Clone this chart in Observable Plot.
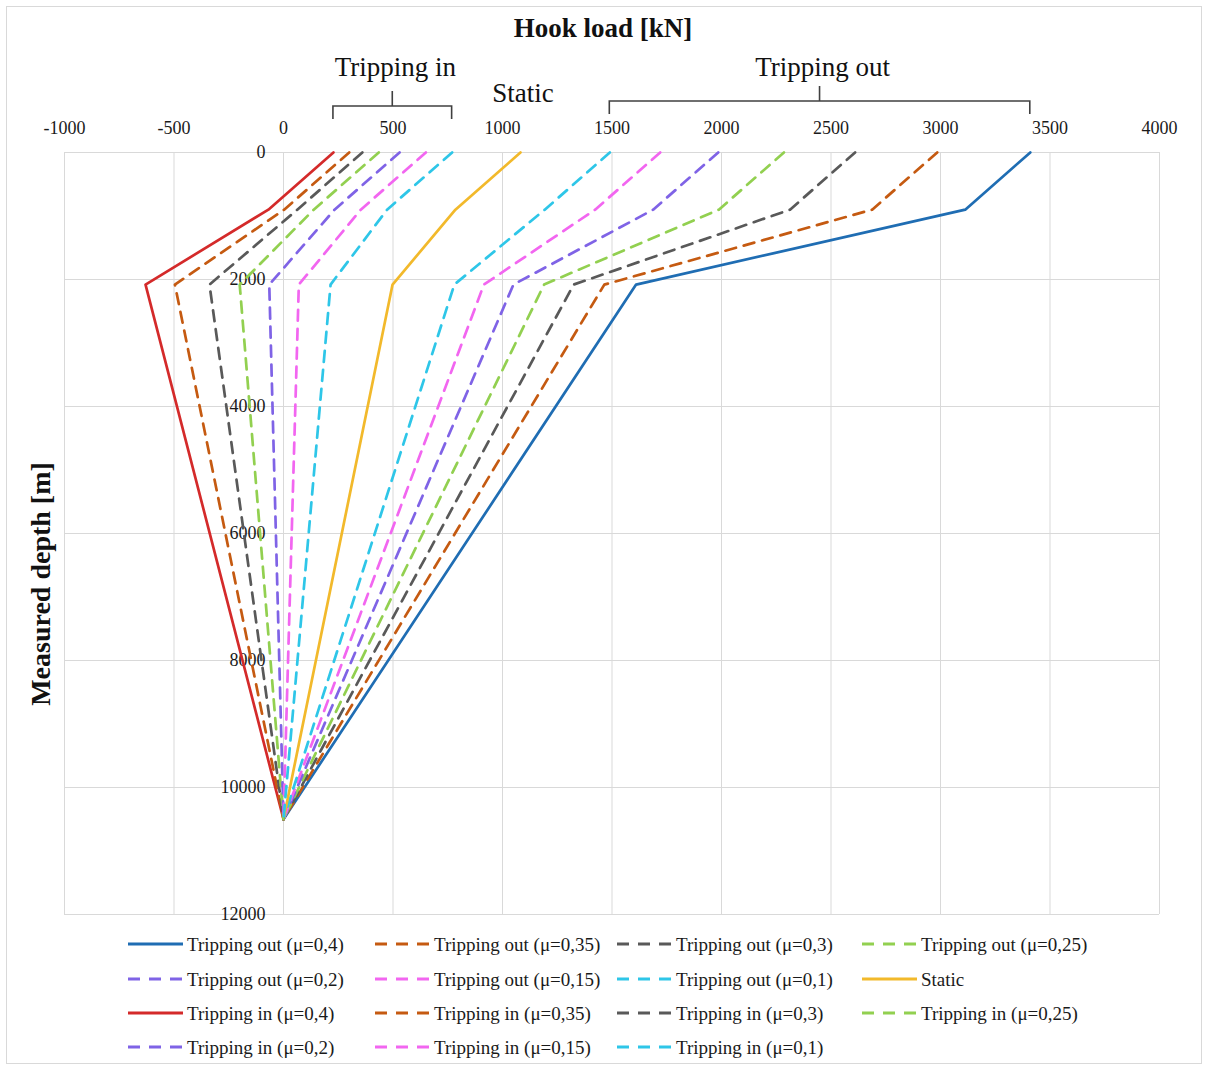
<!DOCTYPE html>
<html><head><meta charset="utf-8">
<script src="https://cdn.jsdelivr.net/npm/d3@7"></script>
<script src="https://cdn.jsdelivr.net/npm/@observablehq/plot@0.6"></script>
<style>body{margin:0;background:#fff}</style>
</head><body><div id="chart"></div>
<script>
// ---- data ----
const depths = [0, 900, 2080, 10500];            // measured depth [m] of each point
const muLabels = ["0,4", "0,35", "0,3", "0,25", "0,2", "0,15", "0,1"];
const trippingOut = [
  [3410, 3113, 1610, 0],
  [2985, 2688, 1465, 0],
  [2610, 2313, 1325, 0],
  [2285, 1988, 1190, 0],
  [1985, 1688, 1050, 0],
  [1720, 1423, 915, 0],
  [1490, 1193, 780, 0]
];
const staticLoad = [1082, 785, 498, 0];
const trippingIn = [
  [228, -69, -630, 0],
  [300, 3, -496, 0],
  [360, 63, -338, 0],
  [435, 138, -200, 0],
  [530, 233, -65, 0],
  [650, 353, 70, 0],
  [770, 473, 215, 0]
];
const xTicks = [-1000, -500, 0, 500, 1000, 1500, 2000, 2500, 3000, 3500, 4000];
const yTicks = [0, 2000, 4000, 6000, 8000, 10000, 12000];

// ---- styles ----
const outColors = ["#1f6db3", "#c55a11", "#595959", "#92d050", "#7f63e6", "#f266f0", "#2ec6e8"];
const inColors  = ["#d42a2a", "#c55a11", "#595959", "#92d050", "#7f63e6", "#f266f0", "#2ec6e8"];
const staticColor = "#f2b92b";
const DASH = "11,8";

const series = [];
trippingOut.forEach((v, i) => series.push({name: `Tripping out (μ=${muLabels[i]})`, values: v, color: outColors[i], dash: i === 0 ? null : DASH}));
series.push({name: "Static", values: staticLoad, color: staticColor, dash: null});
trippingIn.forEach((v, i) => series.push({name: `Tripping in (μ=${muLabels[i]})`, values: v, color: inColors[i], dash: i === 0 ? null : DASH}));

const lineMarks = series.map(s => Plot.line(
  s.values.map((load, j) => ({load, depth: depths[j]})),
  {x: "load", y: "depth", stroke: s.color, strokeWidth: 2.7, strokeDasharray: s.dash || undefined, strokeLinejoin: "round"}
));

const W = 1208, H = 1070;
const plot = Plot.plot({
  width: W, height: H,
  marginTop: 152, marginBottom: 156, marginLeft: 64, marginRight: 49,
  style: {fontFamily: "'Liberation Serif', 'Times New Roman', serif", fontSize: "18px", color: "#1a1a1a", background: "#fff"},
  x: {domain: [-1000, 4000], axis: null, label: null},
  y: {domain: [0, 12000], reverse: true, axis: null, label: null},
  marks: [
    Plot.gridX(xTicks, {stroke: "#d9d9d9", strokeOpacity: 1, strokeWidth: 1}),
    Plot.gridY(yTicks, {stroke: "#d9d9d9", strokeOpacity: 1, strokeWidth: 1}),
    Plot.axisX(xTicks, {anchor: "top", tickSize: 0, tickPadding: 19, fontSize: 18, label: null, tickFormat: d => String(d)}),
    Plot.text(yTicks, {x: 0, y: d => d, text: d => String(d), textAnchor: "end", dx: -18, fontSize: 18, fill: "#1a1a1a"}),
    ...lineMarks
  ]
});
document.getElementById("chart").appendChild(plot);

// ---- annotations, titles, legend ----
const svg = d3.select(plot);
const xs = plot.scale("x");
const X = v => xs.apply(v);
const serif = "'Liberation Serif', 'Times New Roman', serif";

svg.insert("rect", ":first-child").attr("x", 6.5).attr("y", 6.5).attr("width", W - 13).attr("height", H - 13)
  .attr("fill", "#fff").attr("stroke", "#d9d9d9");

svg.append("text").attr("x", 603).attr("y", 28).attr("dy", "0.35em").attr("text-anchor", "middle")
  .attr("font-family", serif).attr("font-size", 27).attr("font-weight", "bold").attr("fill", "#111").text("Hook load [kN]");

svg.append("text").attr("transform", "translate(40,584) rotate(-90)").attr("dy", "0.35em").attr("text-anchor", "middle")
  .attr("font-family", serif).attr("font-size", 28).attr("font-weight", "bold").attr("fill", "#111").text("Measured depth [m]");

function bracket(vals, yh, label) {
  const x1 = X(d3.min(vals)), x2 = X(d3.max(vals)), xc = (x1 + x2) / 2;
  svg.append("path").attr("d", `M${x1},${yh + 13}L${x1},${yh}L${x2},${yh}L${x2},${yh + 13}M${xc},${yh}L${xc},${yh - 15}`)
    .attr("fill", "none").attr("stroke", "#404040").attr("stroke-width", 1.6);
  svg.append("text").attr("x", xc + 3).attr("y", 67).attr("dy", "0.35em").attr("text-anchor", "middle")
    .attr("font-family", serif).attr("font-size", 27).attr("fill", "#111").text(label);
}
bracket(trippingIn.map(v => v[0]), 106, "Tripping in");
bracket(trippingOut.map(v => v[0]), 101, "Tripping out");
svg.append("text").attr("x", X(staticLoad[0]) + 3).attr("y", 93).attr("dy", "0.35em").attr("text-anchor", "middle")
  .attr("font-family", serif).attr("font-size", 27).attr("fill", "#111").text("Static");

// legend
const colX = [128, 375, 617, 862];
const rowY = [944, 979, 1013, 1047];
series.forEach((s, i) => {
  const r = Math.floor(i / 4), c = i % 4;
  const g = svg.append("g").attr("transform", `translate(${colX[c]},${rowY[r]})`);
  g.append("line").attr("x1", 0).attr("x2", 55).attr("y1", 0).attr("y2", 0)
    .attr("stroke", s.color).attr("stroke-width", 2.8).attr("stroke-dasharray", s.dash ? "12,9" : null);
  g.append("text").attr("x", 59).attr("y", 0).attr("dy", "0.35em").attr("text-anchor", "start").attr("font-family", serif)
    .attr("font-size", 19).attr("fill", "#1a1a1a").text(s.name);
});
</script></body></html>
